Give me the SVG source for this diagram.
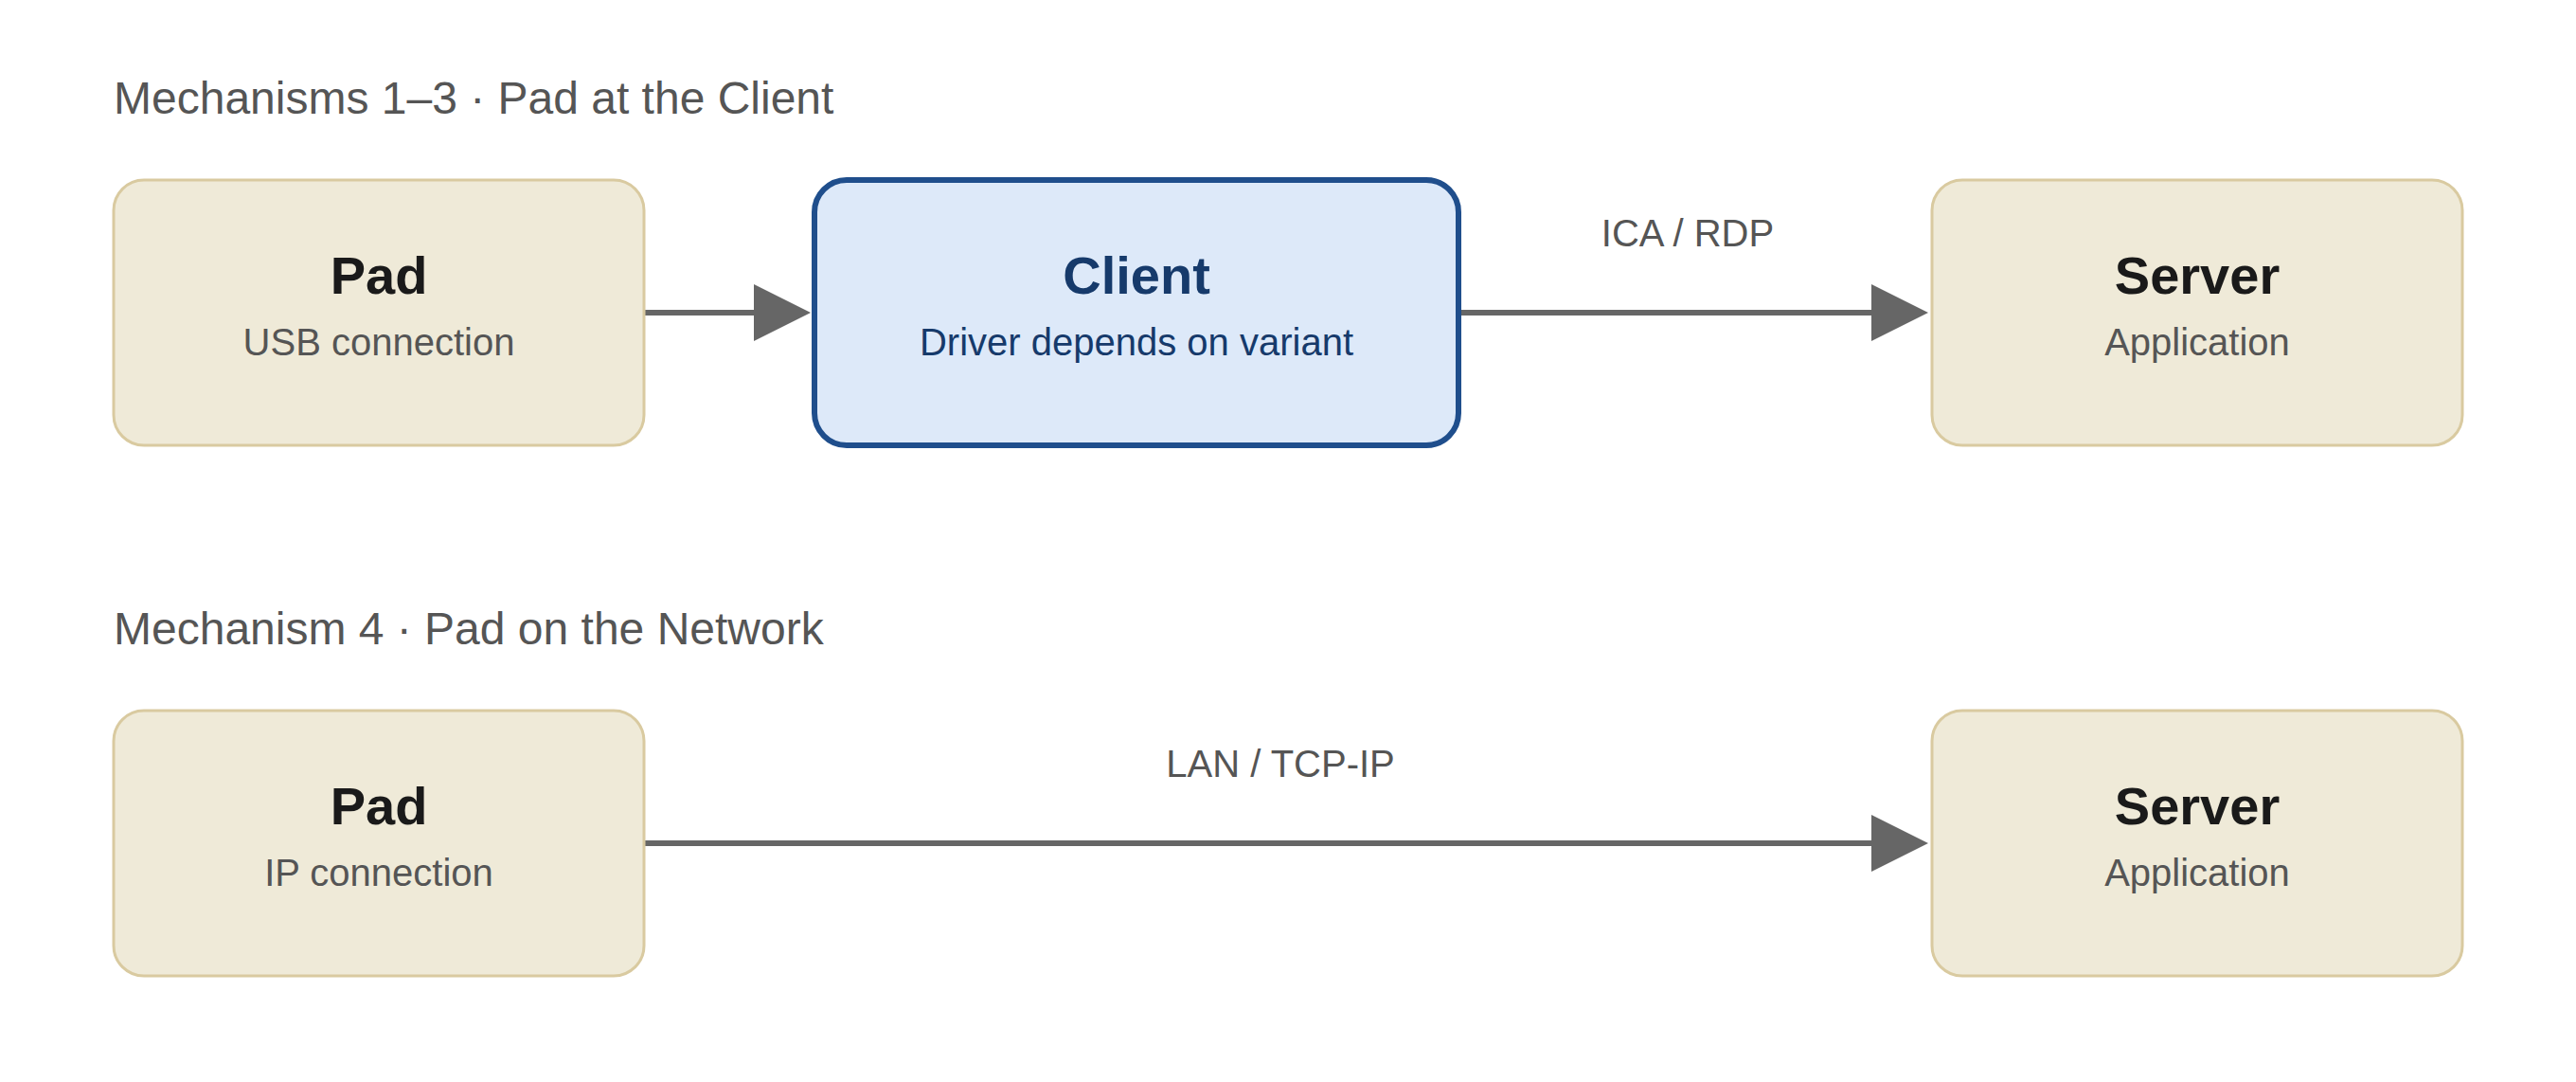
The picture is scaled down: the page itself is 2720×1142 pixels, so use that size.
<svg xmlns="http://www.w3.org/2000/svg" width="2720" height="1142" viewBox="0 0 2720 1142">
  <style>
    .hdr { font-family: "Liberation Sans", Arial, sans-serif; font-size: 48px; fill: #555555; }
    .box { fill: #efead8; stroke: #d9caa0; stroke-width: 3; }
    .boxc { fill: #dde9f9; stroke: #1f4e8c; stroke-width: 6; }
    .t { font-family: "Liberation Sans", Arial, sans-serif; font-size: 56px; font-weight: bold; fill: #1a1a1a; text-anchor: middle; }
    .s { font-family: "Liberation Sans", Arial, sans-serif; font-size: 40px; fill: #555555; text-anchor: middle; }
    .tc { fill: #163a6b; }
    .lbl { font-family: "Liberation Sans", Arial, sans-serif; font-size: 40px; fill: #555555; text-anchor: middle; }
    .edge { stroke: #666666; stroke-width: 6; fill: none; marker-end: url(#ah); }
  </style>
  <defs>
    <marker id="ah" markerUnits="userSpaceOnUse" markerWidth="60" markerHeight="60" refX="4" refY="30" orient="auto" overflow="visible">
      <path d="M0,0 L60,30 L0,60 Z" fill="#666666"/>
    </marker>
  </defs>
  <rect width="2720" height="1142" fill="#ffffff"/>

  <text class="hdr" x="120" y="120">Mechanisms 1–3 · Pad at the Client</text>
  <text class="hdr" x="120" y="680">Mechanism 4 · Pad on the Network</text>

  <g id="connectors">
    <line class="edge" x1="680" y1="330" x2="800" y2="330"/>
    <line class="edge" x1="1540" y1="330" x2="1980" y2="330"/>
    <text class="lbl" x="1782" y="260">ICA / RDP</text>
    <line class="edge" x1="680" y1="890" x2="1980" y2="890"/>
    <text class="lbl" x="1352" y="820">LAN / TCP-IP</text>
  </g>

  <g id="pad1">
    <rect class="box" x="120" y="190" width="560" height="280" rx="32" ry="32"/>
    <text class="t" x="400" y="310">Pad</text>
    <text class="s" x="400" y="375">USB connection</text>
  </g>
  <g id="client">
    <rect class="boxc" x="860" y="190" width="680" height="280" rx="34" ry="34"/>
    <text class="t tc" x="1200" y="310">Client</text>
    <text class="s tc" x="1200" y="375">Driver depends on variant</text>
  </g>
  <g id="server1">
    <rect class="box" x="2040" y="190" width="560" height="280" rx="32" ry="32"/>
    <text class="t" x="2320" y="310">Server</text>
    <text class="s" x="2320" y="375">Application</text>
  </g>
  <g id="pad2">
    <rect class="box" x="120" y="750" width="560" height="280" rx="32" ry="32"/>
    <text class="t" x="400" y="870">Pad</text>
    <text class="s" x="400" y="935">IP connection</text>
  </g>
  <g id="server2">
    <rect class="box" x="2040" y="750" width="560" height="280" rx="32" ry="32"/>
    <text class="t" x="2320" y="870">Server</text>
    <text class="s" x="2320" y="935">Application</text>
  </g>
</svg>
